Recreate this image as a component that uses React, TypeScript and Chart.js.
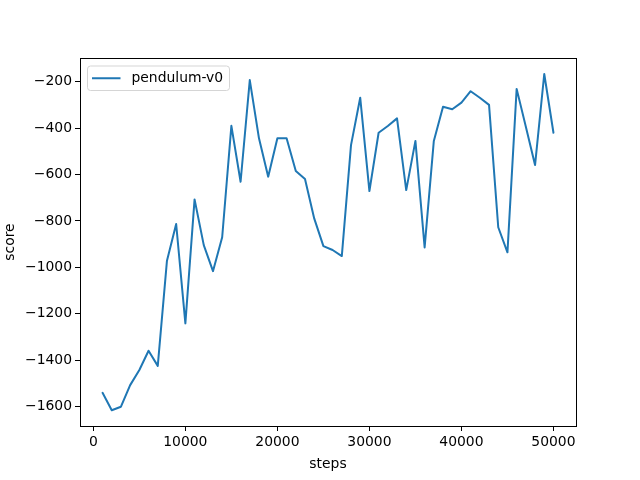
import { useEffect, useRef } from 'react';
import { Chart, registerables, ChartOptions, Plugin } from 'chart.js';

Chart.register(...registerables);

// training steps (x) and episode score (y)
const STEPS = [
  1000, 2000, 3000, 4000, 5000, 6000, 7000, 8000, 9000, 10000,
  11000, 12000, 13000, 14000, 15000, 16000, 17000, 18000, 19000, 20000,
  21000, 22000, 23000, 24000, 25000, 26000, 27000, 28000, 29000, 30000,
  31000, 32000, 33000, 34000, 35000, 36000, 37000, 38000, 39000, 40000,
  41000, 42000, 43000, 44000, 45000, 46000, 47000, 48000, 49000, 50000,
];
const SCORES = [
  -1540, -1615, -1600, -1507, -1442, -1359, -1424, -971, -813, -1241,
  -707, -904, -1016, -870, -390, -631, -193, -444, -609, -444,
  -444, -585, -619, -789, -908, -925, -951, -473, -269, -671,
  -420, -391, -358, -667, -455, -914, -455, -308, -319, -290,
  -241, -269, -300, -827, -935, -231, -394, -559, -167, -420,
];
const X_TICKS = [0, 10000, 20000, 30000, 40000, 50000];
const Y_TICKS = [-1600, -1400, -1200, -1000, -800, -600, -400, -200];
const SERIES_LABEL = 'pendulum-v0';

const FONT = 'DejaVu Sans';
const BLUE = '#1f77b4';

// draws the top/right spines and a matplotlib-like legend box
const framePlugin: Plugin<'line'> = {
  id: 'frame',
  afterDraw(chart) {
    const { ctx, chartArea: a } = chart;
    ctx.save();
    ctx.strokeStyle = '#000';
    ctx.lineWidth = 1;
    ctx.strokeRect(a.left + 0.5, a.top + 0.5, a.right - a.left, a.bottom - a.top);

    // legend
    const x = a.left + 7, y = a.top + 7.5, w = 142, h = 24.5;
    ctx.beginPath();
    ctx.roundRect(x + 0.5, y + 0.5, w, h, 3);
    ctx.fillStyle = 'rgba(255,255,255,0.8)';
    ctx.fill();
    ctx.strokeStyle = '#d5d5d5';
    ctx.stroke();
    const cy = y + h / 2 + 0.5;
    ctx.beginPath();
    ctx.moveTo(x + 5, cy);
    ctx.lineTo(x + 33.5, cy);
    ctx.strokeStyle = BLUE;
    ctx.lineWidth = 2;
    ctx.stroke();
    ctx.fillStyle = '#000';
    ctx.font = `13.9px "${FONT}"`;
    ctx.textBaseline = 'middle';
    ctx.fillText(chart.data.datasets[0].label ?? '', x + 44.5, cy);
    ctx.restore();
  },
};

const App: React.FC = () => {
  const chartRef = useRef<HTMLCanvasElement | null>(null);

  useEffect(() => {
    const ctx = chartRef.current?.getContext('2d');
    if (!ctx) return;

    const options: ChartOptions<'line'> = {
      animation: false,
      responsive: false,
      devicePixelRatio: 1,
      layout: { padding: { left: 0, top: 58, right: 64, bottom: 0 } },
      plugins: { legend: { display: false }, tooltip: { enabled: false } },
      scales: {
        x: {
          type: 'linear',
          min: -1450,
          max: 52450,
          afterBuildTicks: (s) => { s.ticks = X_TICKS.map((v) => ({ value: v })); },
          afterFit: (s) => { s.height = 54; },
          grid: { drawOnChartArea: false, tickLength: 5, color: '#000' },
          border: { color: '#000' },
          ticks: {
            color: '#000',
            font: { family: FONT, size: 13.9 },
            padding: 3,
            maxRotation: 0,
            autoSkip: false,
            callback: (v) => String(v),
          },
          title: {
            display: true,
            text: 'steps',
            color: '#000',
            font: { family: FONT, size: 13.9 },
            padding: { top: 0, bottom: 7 },
          },
        },
        y: {
          min: -1683,
          max: -98,
          afterBuildTicks: (s) => { s.ticks = Y_TICKS.map((v) => ({ value: v })); },
          afterFit: (s) => { s.width = 80; },
          grid: { drawOnChartArea: false, tickLength: 5, color: '#000' },
          border: { color: '#000' },
          ticks: {
            color: '#000',
            font: { family: FONT, size: 13.9 },
            padding: 3,
            autoSkip: false,
            callback: (v) => String(v).replace('-', '\u2212'),
          },
          title: {
            display: true,
            text: 'score',
            color: '#000',
            font: { family: FONT, size: 13.9 },
            padding: { top: 2, bottom: 4 },
          },
        },
      },
    };

    const chart = new Chart(ctx, {
      type: 'line',
      data: {
        datasets: [
          {
            label: SERIES_LABEL,
            data: STEPS.map((s, i) => ({ x: s, y: SCORES[i] })),
            borderColor: BLUE,
            borderWidth: 2,
            borderJoinStyle: 'round',
            borderCapStyle: 'round',
            pointRadius: 0,
            tension: 0,
            fill: false,
          },
        ],
      },
      options,
      plugins: [framePlugin],
    });

    return () => {
      chart.destroy();
    };
  }, []);

  return (
    <div style={{ position: 'fixed', left: 0, top: 0, width: 640, height: 480, background: '#fff' }}>
      <canvas ref={chartRef} width={640} height={480}></canvas>
    </div>
  );
};

export default App;
